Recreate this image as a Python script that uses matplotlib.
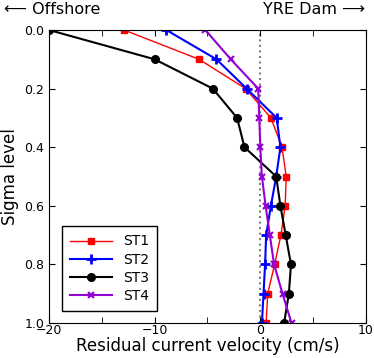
import numpy as np
import matplotlib
matplotlib.use("Agg")
import matplotlib.pyplot as plt
from matplotlib.ticker import MultipleLocator

# sigma levels (0 = surface, 1 = bottom)
sigma = [0.0, 0.1, 0.2, 0.3, 0.4, 0.5, 0.6, 0.7, 0.8, 0.9, 1.0]

# residual current velocity (cm/s) at each station
st1 = [-12.9, -5.8, -1.4, 1.0, 2.05, 2.45, 2.35, 1.95, 1.35, 0.7, 0.55]
st2 = [-8.9, -4.15, -1.3, 1.55, 1.9, 1.5, 1.0, 0.55, 0.45, 0.3, 0.15]
st3 = [-20.0, -10.0, -4.5, -2.2, -1.5, 1.5, 1.9, 2.4, 2.9, 2.7, 2.25]
st4 = [-5.2, -2.8, -0.2, -0.1, 0.0, 0.15, 0.5, 0.9, 1.3, 2.1, 2.95]

fig = plt.figure(figsize=(3.74, 3.58), dpi=100)
ax = fig.add_axes([49 / 374, 1 - 323 / 358, 317 / 374, 293 / 358])

ax.axvline(0, color="gray", linestyle=":", linewidth=1.5, zorder=1)

ax.plot(st1, sigma, color="red", linewidth=1.0, marker="s", markersize=4.5, label="ST1")
ax.plot(st2, sigma, color="blue", linewidth=1.5, marker="+", markersize=7, markeredgewidth=2, label="ST2")
ax.plot(st3, sigma, color="black", linewidth=1.5, marker="o", markersize=5.5, label="ST3")
ax.plot(st4, sigma, color="darkviolet", linewidth=1.5, marker="x", markersize=4.5, markeredgewidth=1.5, label="ST4")

ax.set_xlim(-20, 10)
ax.set_ylim(1.0, 0.0)
ax.xaxis.set_major_locator(MultipleLocator(10))
ax.xaxis.set_minor_locator(MultipleLocator(5))
ax.yaxis.set_major_locator(MultipleLocator(0.2))
ax.set_yticklabels(["%.1f" % v for v in ax.get_yticks()])
ax.tick_params(which="both", direction="in", top=True, right=True, labelsize=9, length=4)
ax.tick_params(axis="x", pad=1)

ax.set_xlabel("Residual current velocity (cm/s)", fontsize=12, labelpad=0)
ax.set_ylabel("Sigma level", fontsize=12, labelpad=4)

fig.text(4 / 374, 1 - 10 / 358, "\u27f5 Offshore", fontsize=11.5, ha="left", va="center")
fig.text(365 / 374, 1 - 10 / 358, "YRE Dam \u27f6", fontsize=11.5, ha="right", va="center")

leg = ax.legend(loc="lower left", bbox_to_anchor=(0.04, 0.04), borderaxespad=0, fontsize=10,
                fancybox=False, edgecolor="black", framealpha=1,
                handlelength=3, borderpad=0.6, labelspacing=0.3)
leg.get_frame().set_linewidth(1.0)

fig.savefig("out.png", dpi=100)
